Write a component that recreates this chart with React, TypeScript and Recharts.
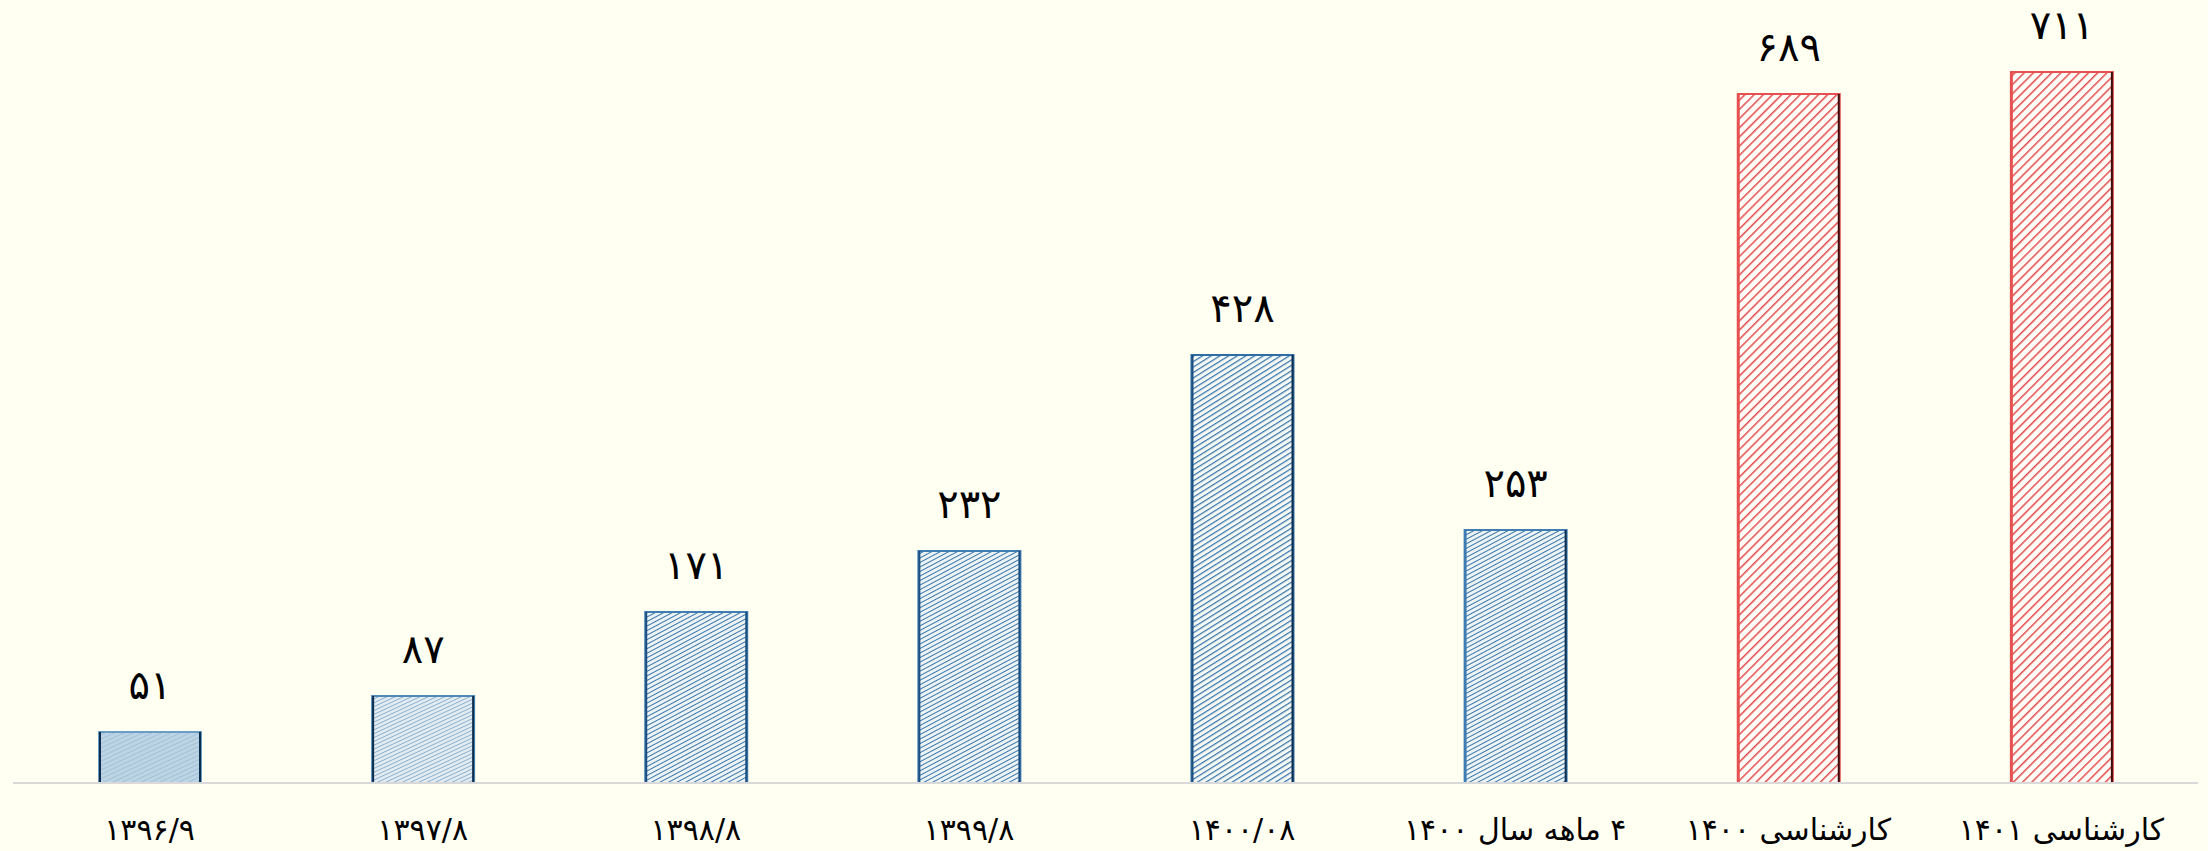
import React from 'react';
import { BarChart, Bar, XAxis, YAxis, Cell, LabelList } from 'recharts';

const categories = ['۱۳۹۶/۹', '۱۳۹۷/۸', '۱۳۹۸/۸', '۱۳۹۹/۸', '۱۴۰۰/۰۸', '۴ ماهه سال ۱۴۰۰', 'کارشناسی ۱۴۰۰', 'کارشناسی ۱۴۰۱'];
const values = [51, 87, 171, 232, 428, 253, 689, 711];

const data = categories.map((c, i) => ({ name: c, value: values[i] }));

const fillIds = ['pLight1', 'pLight2', 'pBlue', 'pBlue', 'pBlue2', 'pBlue', 'pRed', 'pRed'];
const strokes = ['#6a9dc4', '#4f88b8', '#3f7db3', '#3f7db3', '#2f6ea5', '#3f7db3', '#e65050', '#e65050'];
const edgeLeft = ['#0c2d4d', '#0c2d4d', '#1c4f7f', '#1c4f7f', '#1c4f7f', '#3f7db3', '#e65050', '#e65050'];
const edgeRight = ['#0c2d4d', '#0c2d4d', '#1c4f7f', '#1c4f7f', '#0c2d4d', '#0c2d4d', '#3a0d0d', '#3a0d0d'];

const FONT = '"DejaVu Sans", sans-serif';

const toFa = (n: number) => String(n).replace(/[0-9]/g, (d) => '۰۱۲۳۴۵۶۷۸۹'[Number(d)]);

const BarShape = (props: any) => {
  const { x, y, width, height, index } = props;
  return (
    <g>
      <rect x={x} y={y} width={width} height={height} fill={`url(#${fillIds[index]})`} stroke={strokes[index]} strokeWidth={2} />
      <line x1={x + 1} y1={y} x2={x + 1} y2={y + height} stroke={edgeLeft[index]} strokeWidth={2} />
      <line x1={x + width - 1} y1={y} x2={x + width - 1} y2={y + height} stroke={edgeRight[index]} strokeWidth={2} />
    </g>
  );
};

const ValueLabel = (props: any) => {
  const { x, y, width, value } = props;
  return (
    <text x={x + width / 2} y={y - 47} textAnchor="middle" dominantBaseline="central" fontFamily={FONT} fontSize={40} fill="#000">
      {toFa(value)}
    </text>
  );
};

const Tick = (props: any) => {
  const { x, y, payload } = props;
  return (
    <text x={x} y={y + 38} textAnchor="middle" dominantBaseline="central" direction="rtl" fontFamily={FONT} fontSize={30} fill="#000">
      {payload.value}
    </text>
  );
};

export default function App() {
  return (
    <div style={{ position: 'absolute', left: 0, top: 0, width: 2208, height: 851, background: '#fffff2' }}>
      <BarChart width={2208} height={851} data={data} margin={{ top: 63, right: 10, bottom: 0, left: 13 }}>
        <defs>
          <pattern id="pLight1" patternUnits="userSpaceOnUse" width={4} height={4} patternTransform="rotate(65)">
            <rect width={4} height={4} fill="#bcd4e4" />
            <line x1={0} y1={0} x2={0} y2={4} stroke="#a2c1d8" strokeWidth={2} />
          </pattern>
          <pattern id="pLight2" patternUnits="userSpaceOnUse" width={3.5} height={3.5} patternTransform="rotate(65)">
            <rect width={3.5} height={3.5} fill="#e2ecf1" />
            <line x1={0} y1={0} x2={0} y2={3.5} stroke="#86afcf" strokeWidth={1.8} />
          </pattern>
          <pattern id="pBlue" patternUnits="userSpaceOnUse" width={4} height={4} patternTransform="rotate(62)">
            <rect width={4} height={4} fill="#eef4f4" />
            <line x1={0} y1={0} x2={0} y2={4} stroke="#3676ae" strokeWidth={2} />
          </pattern>
          <pattern id="pBlue2" patternUnits="userSpaceOnUse" width={4.6} height={4.6} patternTransform="rotate(58)">
            <rect width={4.6} height={4.6} fill="#f6f9f4" />
            <line x1={0} y1={0} x2={0} y2={4.6} stroke="#3272ac" strokeWidth={2.4} />
          </pattern>
          <pattern id="pRed" patternUnits="userSpaceOnUse" width={6.5} height={6.5} patternTransform="rotate(45)">
            <rect width={6.5} height={6.5} fill="#fffdf8" />
            <line x1={0} y1={0} x2={0} y2={6.5} stroke="#e44c4c" strokeWidth={3} />
          </pattern>
        </defs>
        <XAxis
          dataKey="name"
          height={68}
          axisLine={{ stroke: '#d9d9d9', strokeWidth: 2 }}
          tickLine={false}
          tick={<Tick />}
          interval={0}
        />
        <YAxis hide domain={[0, 720]} />
        <Bar dataKey="value" barSize={102} isAnimationActive={false} shape={<BarShape />}>
          {data.map((d, i) => (
            <Cell key={d.name} fill={`url(#${fillIds[i]})`} />
          ))}
          <LabelList dataKey="value" content={<ValueLabel />} />
        </Bar>
      </BarChart>
    </div>
  );
}
